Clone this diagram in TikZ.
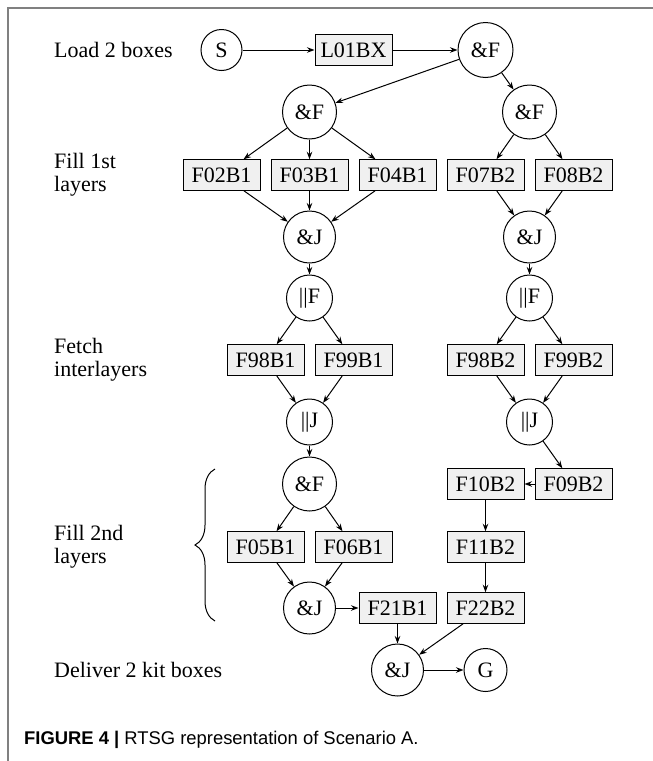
\documentclass[tikz,border=0pt]{standalone}
\usepackage{fontspec}
\setmainfont{Liberation Serif}
\newfontfamily\capfont{Liberation Sans}
\usetikzlibrary{arrows.meta,decorations.pathreplacing}

\begin{document}
\begin{tikzpicture}[x=1pt,y=-1pt,
  every node/.style={font=\fontsize{22}{23}\selectfont},
  task/.style={draw=black, fill=black!6, line width=1pt,
    minimum width=77pt, minimum height=30.5pt, inner sep=0pt},
  gate/.style={draw=black, circle, line width=1pt, inner sep=0pt,
    minimum size=#1},
  gate/.default=52pt,
  flow/.style={draw=black, line width=1pt,
    -{Stealth[length=7.5pt,width=5.5pt]}},
  lane/.style={align=left, anchor=west, inner sep=0pt},
  frame/.style={draw=black!50, line width=1.4pt}]

\useasboundingbox (0,0) rectangle (653,761);

% page frame
\coordinate (fA) at (8,761);
\coordinate (fB) at (8,8);
\coordinate (fC) at (653,8);
\draw[frame] (fA) -- (fB) -- (fC);

% phase labels
\node[lane] (lab0) at (54,50)  {Load 2 boxes};
\node[lane] (lab1) at (54,175) {Fill 1st\\layers};
\node[lane] (lab2) at (54,360) {Fetch\\interlayers};
\node[lane] (lab3) at (54,547) {Fill 2nd\\layers};
\node[lane] (lab4) at (54,670) {Deliver 2 kit boxes};

% brace of the second filling phase
\coordinate (brB) at (215,621);
\coordinate (brT) at (215,469);
\draw[line width=1pt, decorate, decoration={brace, amplitude=20pt}] (brB) -- (brT);

% load
\node[gate=41pt] (S) at (221.5,50) {S};
\node[task] (L01BX) at (353.5,50) {L01BX};
\node[gate=55pt] (f0) at (485.5,50) {\&F};

% first layers
\node[gate=54pt] (f1) at (309.5,112) {\&F};
\node[gate=54pt] (f2) at (529.5,112) {\&F};
\node[task] (F02B1) at (221.5,175) {F02B1};
\node[task] (F03B1) at (309.5,175) {F03B1};
\node[task] (F04B1) at (397.5,175) {F04B1};
\node[task] (F07B2) at (485.5,175) {F07B2};
\node[task] (F08B2) at (573.5,175) {F08B2};
\node[gate] (j1) at (309.5,237) {\&J};
\node[gate] (j2) at (529.5,237) {\&J};

% interlayers
\node[gate=46pt] (p1) at (309.5,298) {||F};
\node[gate=46pt] (p2) at (529.5,298) {||F};
\node[task] (F98B1) at (265.5,360) {F98B1};
\node[task] (F99B1) at (353.5,360) {F99B1};
\node[task] (F98B2) at (485.5,360) {F98B2};
\node[task] (F99B2) at (573.5,360) {F99B2};
\node[gate=46pt] (q1) at (309.5,422) {||J};
\node[gate=46pt] (q2) at (529.5,422) {||J};

% second layers
\node[gate=54pt] (f3) at (309.5,484) {\&F};
\node[task] (F10B2) at (485.5,484) {F10B2};
\node[task] (F09B2) at (573.5,484) {F09B2};
\node[task] (F05B1) at (265.5,547) {F05B1};
\node[task] (F06B1) at (353.5,547) {F06B1};
\node[task] (F11B2) at (485.5,547) {F11B2};
\node[gate] (j3) at (309.5,608) {\&J};
\node[task] (F21B1) at (397.5,608) {F21B1};
\node[task] (F22B2) at (485.5,608) {F22B2};

% delivery
\node[gate] (j4) at (397.5,670) {\&J};
\node[gate=43pt] (G) at (485.5,670) {G};

% connectors
\draw[flow] (S) -- (L01BX);
\draw[flow] (L01BX) -- (f0);
\draw[flow] (f0) -- (f1);
\draw[flow] (f0) -- (f2);
\foreach \t in {F02B1,F03B1,F04B1} {
  \draw[flow] (f1) -- (\t);
  \draw[flow] (\t) -- (j1);
}
\foreach \t in {F07B2,F08B2} {
  \draw[flow] (f2) -- (\t);
  \draw[flow] (\t) -- (j2);
}
\draw[flow] (j1) -- (p1);
\draw[flow] (j2) -- (p2);
\foreach \t in {F98B1,F99B1} {
  \draw[flow] (p1) -- (\t);
  \draw[flow] (\t) -- (q1);
}
\foreach \t in {F98B2,F99B2} {
  \draw[flow] (p2) -- (\t);
  \draw[flow] (\t) -- (q2);
}
\draw[flow] (q1) -- (f3);
\draw[flow] (q2) -- (F09B2);
\draw[flow] (F09B2) -- (F10B2);
\draw[flow] (F10B2) -- (F11B2);
\draw[flow] (F11B2) -- (F22B2);
\foreach \t in {F05B1,F06B1} {
  \draw[flow] (f3) -- (\t);
  \draw[flow] (\t) -- (j3);
}
\draw[flow] (j3) -- (F21B1);
\draw[flow] (F21B1) -- (j4);
\draw[flow] (F22B2) -- (j4);
\draw[flow] (j4) -- (G);

% caption
\node[anchor=west, inner sep=0pt, font=\capfont\fontsize{18.4}{20}\selectfont] (cap) at (24,740)
  {{\bfseries FIGURE 4 |} RTSG representation of Scenario A.};

\end{tikzpicture}
\end{document}
